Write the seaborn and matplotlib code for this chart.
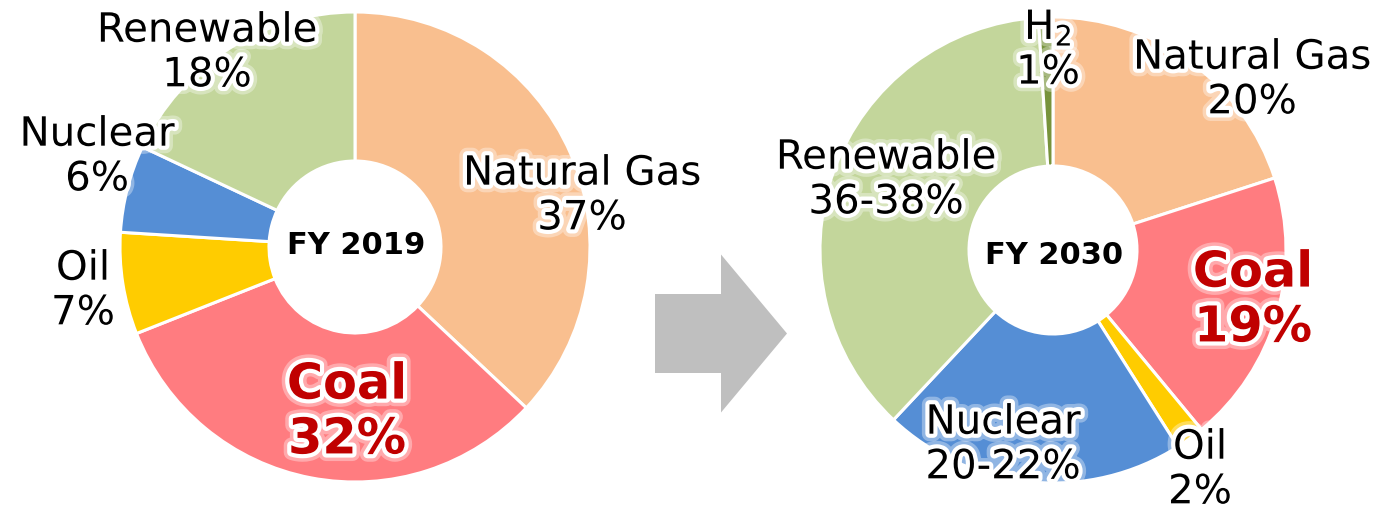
import matplotlib
matplotlib.use("Agg")
import matplotlib.pyplot as plt
import matplotlib.patheffects as pe
from matplotlib.patches import FancyArrow
import seaborn as sns

sns.set_theme(style="white")
plt.rcParams['font.family'] = ['DejaVu Sans']

# ---- data ----
sources_2019 = ["Natural Gas", "Coal", "Oil", "Nuclear", "Renewable"]
shares_2019 = [37, 32, 7, 6, 18]
labels_2019 = ["37%", "32%", "7%", "6%", "18%"]

sources_2030 = ["Natural Gas", "Coal", "Oil", "Nuclear", "Renewable", "H$_2$"]
shares_2030 = [20, 19, 2, 21, 37, 1]
labels_2030 = ["20%", "19%", "2%", "20-22%", "36-38%", "1%"]

colors = {"Natural Gas": "#F9BF8F", "Coal": "#FF7C80", "Oil": "#FFCC00",
          "Nuclear": "#558ED5", "Renewable": "#C3D69B", "H$_2$": "#77933C"}

W, H = 1388, 519
fig = plt.figure(figsize=(W / 100, H / 100), dpi=100)
ax = fig.add_axes([0, 0, 1, 1])
ax.set_xlim(0, W)
ax.set_ylim(0, H)
ax.set_aspect('equal')
ax.axis('off')

def Y(p):
    return H - p

glow = [pe.withStroke(linewidth=11, foreground='#ffffff', alpha=0.35),
        pe.withStroke(linewidth=6, foreground='#ffffff', alpha=1.0)]

def donut(sources, shares, center, r, rin):
    ax.pie(shares, colors=[colors[s] for s in sources], startangle=90,
           counterclock=False, radius=r, center=center,
           wedgeprops=dict(width=r - rin, edgecolor='white', linewidth=2.2))

donut(sources_2019, shares_2019, (355, Y(247)), 235, 86)
donut(sources_2030, shares_2030, (1053, Y(250)), 233, 84)
ax.set_xlim(0, W)
ax.set_ylim(0, H)

# label positions (pixel coords of text block centres)
pos_2019 = {"Natural Gas": (582, 196), "Coal": (347, 412), "Oil": (83, 291),
            "Nuclear": (97, 157), "Renewable": (207, 53)}
pos_2030 = {"Natural Gas": (1252, 80), "Coal": (1253, 300), "Oil": (1200, 470),
            "Nuclear": (1003, 445), "Renewable": (886, 180), "H$_2$": (1048, 50)}

def put_labels(sources, labels, pos):
    for s, lab in zip(sources, labels):
        x, y = pos[s]
        if s == "Coal":
            ax.text(x, Y(y), f"{s}\n{lab}", ha='center', va='center',
                    fontsize=35.5, fontweight='bold', color='#C00000',
                    linespacing=1.18, path_effects=glow)
        else:
            ax.text(x, Y(y), f"{s}\n{lab}", ha='center', va='center',
                    fontsize=29, color='black', linespacing=1.15,
                    path_effects=glow)

put_labels(sources_2019, labels_2019, pos_2019)
put_labels(sources_2030, labels_2030, pos_2030)

ax.text(356, Y(245), "FY 2019", ha='center', va='center', fontsize=22,
        fontweight='bold', color='black')
ax.text(1054, Y(256), "FY 2030", ha='center', va='center', fontsize=22,
        fontweight='bold', color='black')

# arrow between the two charts
ax.add_patch(FancyArrow(655, Y(333.5), 132, 0, width=79, head_width=158,
                        head_length=66, length_includes_head=True,
                        color='#BFBFBF', linewidth=0))

fig.savefig("out.png", dpi=100)
